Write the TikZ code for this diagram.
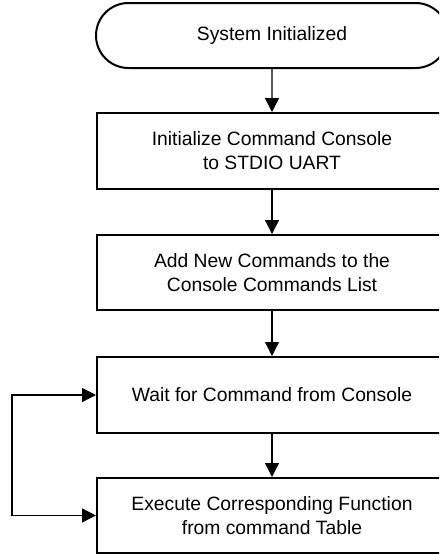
\documentclass[tikz,border=0pt]{standalone}
\usepackage{fontspec}
\setmainfont{Liberation Sans}
\usetikzlibrary{arrows.meta,shapes.misc}
\begin{document}
\begin{tikzpicture}[x=1pt,y=-1pt,
  every node/.style={font=\fontsize{19.3}{24}\selectfont, align=center, inner sep=0pt},
  procbox/.style={draw, line width=2pt, rectangle, minimum width=350pt, minimum height=76pt},
  termbox/.style={draw, line width=2pt, rounded rectangle, minimum width=352pt, minimum height=65pt},
  flow/.style={draw, line width=1.3pt, -{Triangle[width=14pt,length=14pt]}}
]
\useasboundingbox (0,0) rectangle (439,554);
\clip (0,0) rectangle (439,554);
\node[termbox] (start) at (272,35.5) {System Initialized};
\node[procbox] (b1) at (272,151) {Initialize Command Console\\to STDIO UART};
\node[procbox, minimum height=75pt] (b2) at (272,272.5) {Add New Commands to the\\Console Commands List};
\node[procbox] (b3) at (272,395) {Wait for Command from Console};
\node[procbox, minimum height=75pt] (b4) at (272,515.5) {Execute Corresponding Function\\from command Table};
\coordinate (loopx) at (12,0);
\draw[flow] (start) -- (b1);
\draw[flow] (b1) -- (b2);
\draw[flow] (b2) -- (b3);
\draw[flow] (b3) -- (b4);
\draw[line width=1.3pt, {Triangle[width=14pt,length=14pt]}-{Triangle[width=14pt,length=14pt]}]
  (b3.west) -- (loopx |- b3.west) -- (loopx |- b4.west) -- (b4.west);
\end{tikzpicture}
\end{document}
